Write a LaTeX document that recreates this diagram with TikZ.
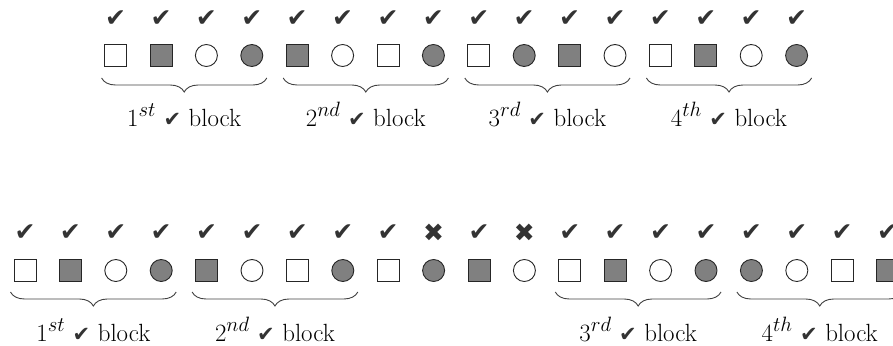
\documentclass[tikz,border=0pt]{standalone}
\usepackage{fontspec}
\newfontfamily\symfont{DejaVu Sans}
\usetikzlibrary{decorations.pathreplacing}
\tikzset{
  shp/.style={draw=black!85, line width=0.9pt, minimum size=22pt, inner sep=0pt},
  sqw/.style={shp, rectangle, fill=white},
  sqg/.style={shp, rectangle, fill=gray},
  ciw/.style={shp, circle, fill=white},
  cig/.style={shp, circle, fill=gray},
  okmark/.style={text=black!80, font=\symfont\fontsize{25}{25}\selectfont, inner sep=0pt},
  blockbrace/.style={decorate, decoration={brace, mirror, amplitude=14pt}, draw=black!75, line width=0.9pt},
  blocklabel/.style={anchor=base, font=\fontsize{24.88}{30}\selectfont, inner sep=0pt},
}
\newcommand{\tick}{{\color{black!80}\symfont\fontsize{21}{21}\selectfont ✔}}
\begin{document}
\begin{tikzpicture}[x=1pt, y=-1pt]
\useasboundingbox (0,0) rectangle (893,345);
\clip (0,0) rectangle (893,345);

% upper sequence: four complete blocks
\foreach \s [count=\i] in {sqw,sqg,ciw,cig, sqg,ciw,sqw,cig, sqw,cig,sqg,ciw, sqw,sqg,ciw,cig} {
  \pgfmathsetmacro{\cx}{115.6+(\i-1)*45.4}
  \node[\s] (t\i) at (\cx, 55.5) {};
  \node[okmark] (tm\i) at (\cx, 19) {✔};
}
\foreach \k/\ord in {1/st, 2/nd, 3/rd, 4/th} {
  \pgfmathsetmacro{\xl}{115.6+(4*\k-4)*45.4-14}
  \pgfmathsetmacro{\xr}{115.6+(4*\k-1)*45.4+15}
  \pgfmathsetmacro{\xm}{(\xl+\xr)/2}
  \coordinate (tbl\k) at (\xl, 78);
  \coordinate (tbr\k) at (\xr, 78);
  \draw[blockbrace] (tbl\k) -- (tbr\k);
  \node[blocklabel] (tl\k) at (\xm, 126) {$\k^{\ord}$ \tick{} block};
}

% lower sequence: two failed checks between the second and third block
\foreach \s/\m [count=\i] in {sqw/✔,sqg/✔,ciw/✔,cig/✔, sqg/✔,ciw/✔,sqw/✔,cig/✔,
    sqw/✔,cig/✖,sqg/✔,ciw/✖, sqw/✔,sqg/✔,ciw/✔,cig/✔, cig/✔,ciw/✔,sqw/✔,sqg/✔} {
  \pgfmathsetmacro{\cx}{25+(\i-1)*45.4}
  \node[\s] (b\i) at (\cx, 270.5) {};
  \node[okmark] (bm\i) at (\cx, 233) {\m};
}
\foreach \k/\f/\ord in {1/1/st, 2/5/nd, 3/13/rd, 4/17/th} {
  \pgfmathsetmacro{\xl}{25+(\f-1)*45.4-14.5}
  \pgfmathsetmacro{\xr}{25+(\f+2)*45.4+15}
  \pgfmathsetmacro{\xm}{(\xl+\xr)/2}
  \coordinate (bbl\k) at (\xl, 292);
  \coordinate (bbr\k) at (\xr, 292);
  \draw[blockbrace] (bbl\k) -- (bbr\k);
  \node[blocklabel] (bl\k) at (\xm, 341) {$\k^{\ord}$ \tick{} block};
}
\end{tikzpicture}
\end{document}
